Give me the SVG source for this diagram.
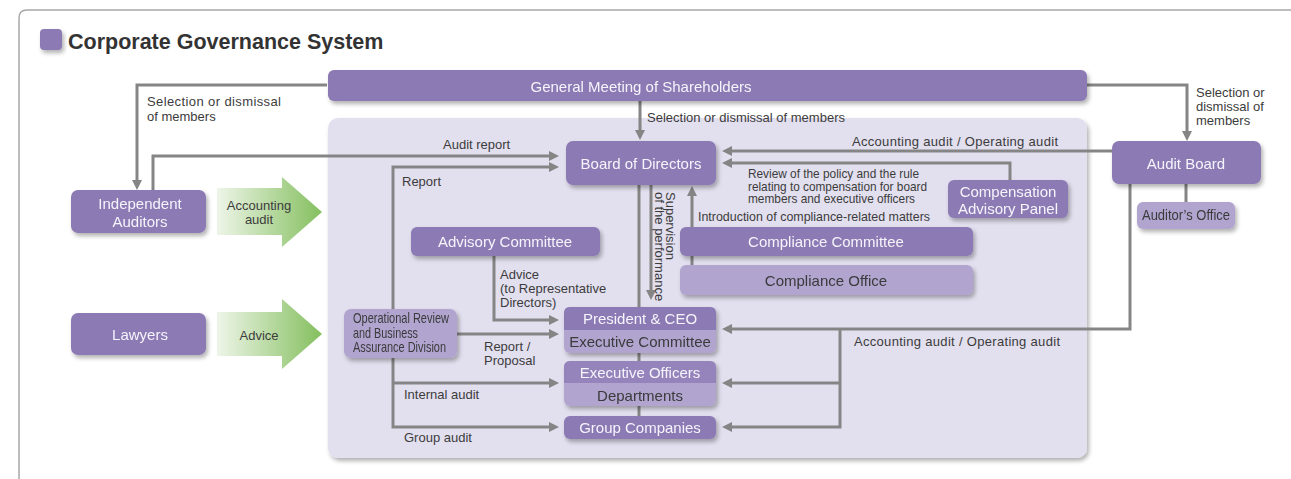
<svg xmlns="http://www.w3.org/2000/svg" width="1291" height="479" viewBox="0 0 1291 479">
<defs>
<style>
.t{font-family:"Liberation Sans",Arial,sans-serif;}
.nw{fill:#f6f4fb;font-size:15px;text-anchor:middle;}
.nd{fill:#3a3a3a;font-size:15px;text-anchor:middle;}
.st{text-anchor:start;}
.lb{fill:#3c3c3c;font-size:13px;}
.dk{fill:#8c7ab4;}
.lt{fill:#b1a5d0;}
.cn{fill:none;stroke:#858585;stroke-width:3;}
.ar{marker-end:url(#ah);}
</style>
<marker id="ah" viewBox="0 0 10 10" refX="2" refY="5" markerWidth="10" markerHeight="10" markerUnits="userSpaceOnUse" orient="auto"><path d="M0,0 L10,5 L0,10 z" fill="#858585"/></marker>
<filter id="sh" x="-10%" y="-20%" width="130%" height="160%"><feDropShadow dx="2" dy="3" stdDeviation="2" flood-color="#000" flood-opacity="0.3"/></filter>
<linearGradient id="gg" x1="0" y1="0" x2="1" y2="0"><stop offset="0" stop-color="#eef5e8"/><stop offset="1" stop-color="#84bf5e"/></linearGradient>
</defs>
<rect width="1291" height="479" fill="#ffffff"/>
<path d="M19,479 V18 Q19,10 27,10 H1291" fill="none" stroke="#a8a8a8" stroke-width="1.5"/>
<g id="title">
<rect x="40" y="29" width="22" height="21" rx="4" class="dk" filter="url(#sh)"/>
<text x="68" y="49" class="t" font-size="21.5" font-weight="bold" fill="#333">Corporate Governance System</text>
</g>
<rect id="panel" x="328" y="118" width="759" height="340" rx="10" fill="#e2dfee" filter="url(#sh)"/>
<g id="arrows-green">
<polygon points="217,188 282,188 282,177 322,212 282,247 282,235 217,235" fill="url(#gg)"/>
<text x="259" y="210" class="t lb" font-size="13.5" text-anchor="middle">Accounting</text>
<text x="259" y="224" class="t lb" font-size="13.5" text-anchor="middle">audit</text>
<polygon points="217,312 282,312 282,299 322,334 282,369 282,356 217,356" fill="url(#gg)"/>
<text x="259" y="340" class="t lb" font-size="13.5" text-anchor="middle">Advice</text>
</g>
<g id="connectors">
<path class="cn ar" d="M327,85 H137 V182"/>
<path class="cn ar" d="M153,190 V156 H551"/>
<path class="cn ar" d="M393,309 V167 H551"/>
<path class="cn ar" d="M640,101 V132"/>
<path class="cn ar" d="M1087,85 H1187 V133"/>
<path class="cn ar" d="M1112,151 H730"/>
<path class="cn ar" d="M1010,180 V163 H730"/>
<path class="cn ar" d="M692,265 V194"/>
<path class="cn" d="M639,185 V307" stroke-width="3.5"/>
<path class="cn ar" d="M651,185 V292"/>
<path class="cn ar" d="M494,256 V320 H551"/>
<path class="cn ar" d="M457,334 H551"/>
<path class="cn ar" d="M393,358 V427 H551"/>
<path class="cn ar" d="M393,383 H551"/>
<path class="cn ar" d="M1130,184 V329 H730"/>
<path class="cn ar" d="M840,329 V427 H730"/>
<path class="cn ar" d="M840,383 H730"/>
<path class="cn" d="M639,353 V361 M639,406 V416 M1186,184 V202" stroke-width="4"/>
</g>
<g id="labels" class="t">
<text x="147" y="106" class="lb" textLength="134">Selection or dismissal</text>
<text x="147" y="121" class="lb">of members</text>
<text x="647" y="122" class="lb">Selection or dismissal of members</text>
<text x="443" y="149" class="lb">Audit report</text>
<text x="402" y="186" class="lb">Report</text>
<text x="1196" y="97" class="lb">Selection or</text>
<text x="1196" y="111" class="lb">dismissal of</text>
<text x="1196" y="125" class="lb">members</text>
<text x="1058" y="146" class="lb" text-anchor="end" textLength="206">Accounting audit / Operating audit</text>
<text x="748" y="178" class="lb" font-size="10.2" textLength="171" lengthAdjust="spacingAndGlyphs">Review of the policy and the rule</text>
<text x="748" y="190.5" class="lb" font-size="10.2" textLength="179" lengthAdjust="spacingAndGlyphs">relating to compensation for board</text>
<text x="748" y="203" class="lb" font-size="10.2" textLength="167" lengthAdjust="spacingAndGlyphs">members and executive officers</text>
<text x="698" y="221" class="lb" font-size="12.5" textLength="232" lengthAdjust="spacingAndGlyphs">Introduction of compliance-related matters</text>
<text transform="translate(666,192) rotate(90)" class="lb" font-size="11">Supervision</text>
<text transform="translate(655,192) rotate(90)" class="lb" font-size="11">of the performance</text>
<text x="500" y="279" class="lb">Advice</text>
<text x="500" y="293" class="lb">(to Representative</text>
<text x="500" y="307" class="lb">Directors)</text>
<text x="484" y="351" class="lb">Report /</text>
<text x="484" y="365" class="lb">Proposal</text>
<text x="404" y="399" class="lb">Internal audit</text>
<text x="404" y="442" class="lb">Group audit</text>
<text x="854" y="346" class="lb" textLength="206">Accounting audit / Operating audit</text>
</g>
<g id="gm" filter="url(#sh)"><rect x="328" y="70" width="759" height="31" rx="6" class="dk"/><text x="641" y="92" class="t nw" font-size="18">General Meeting of Shareholders</text></g>
<g id="independent-auditors" filter="url(#sh)"><rect x="71" y="190" width="135" height="43" rx="7" class="dk"/><text x="140" y="209" class="t nw">Independent</text><text x="140" y="227" class="t nw">Auditors</text></g>
<g id="lawyers" filter="url(#sh)"><rect x="71" y="313" width="135" height="42" rx="7" class="dk"/><text x="140" y="340" class="t nw">Lawyers</text></g>
<g id="board" filter="url(#sh)"><rect x="566" y="141" width="150" height="44" rx="7" class="dk"/><text x="641" y="169" class="t nw">Board of Directors</text></g>
<g id="audit-board" filter="url(#sh)"><rect x="1112" y="141" width="149" height="43" rx="7" class="dk"/><text x="1186" y="169" class="t nw">Audit Board</text></g>
<g id="auditors-office" filter="url(#sh)"><rect x="1137" y="202" width="98" height="27" rx="6" class="lt"/><text x="1142" y="220" class="t nd st" font-size="13" textLength="88" lengthAdjust="spacingAndGlyphs">Auditor’s Office</text></g>
<g id="compensation" filter="url(#sh)"><rect x="948" y="180" width="120" height="38" rx="6" class="dk"/><text x="1008" y="197" class="t nw" font-size="14">Compensation</text><text x="1008" y="214" class="t nw" font-size="14">Advisory Panel</text></g>
<g id="advisory" filter="url(#sh)"><rect x="411" y="227" width="189" height="29" rx="6" class="dk"/><text x="505" y="247" class="t nw">Advisory Committee</text></g>
<g id="compliance-committee" filter="url(#sh)"><rect x="680" y="227" width="293" height="29" rx="6" class="dk"/><text x="826" y="247" class="t nw">Compliance Committee</text></g>
<g id="compliance-office" filter="url(#sh)"><rect x="680" y="265" width="293" height="30" rx="6" class="lt"/><text x="826" y="286" class="t nd">Compliance Office</text></g>
<g id="operational-review" filter="url(#sh)"><rect x="344" y="309" width="113" height="49" rx="7" class="lt"/>
<text x="353" y="323" class="t nd st" font-size="11.5" textLength="96" lengthAdjust="spacingAndGlyphs">Operational Review</text>
<text x="353" y="337.5" class="t nd st" font-size="11.5" textLength="65" lengthAdjust="spacingAndGlyphs">and Business</text>
<text x="353" y="352" class="t nd st" font-size="11.5" textLength="93" lengthAdjust="spacingAndGlyphs">Assurance Division</text></g>
<g id="president" filter="url(#sh)"><rect x="564" y="307" width="152" height="46" rx="6" class="lt"/><path d="M564,330 V313 Q564,307 570,307 H710 Q716,307 716,313 V330 Z" class="dk"/><text x="640" y="324" class="t nw">President &amp; CEO</text><text x="640" y="347" class="t nd" font-size="14.5">Executive Committee</text></g>
<g id="executive-officers" filter="url(#sh)"><rect x="564" y="361" width="152" height="45" rx="6" class="lt"/><path d="M564,383 V367 Q564,361 570,361 H710 Q716,361 716,367 V383 Z" class="dk" fill-opacity="0.75"/><text x="640" y="378" class="t nw">Executive Officers</text><text x="640" y="401" class="t nd">Departments</text></g>
<g id="group-companies" filter="url(#sh)"><rect x="564" y="416" width="152" height="23" rx="6" class="dk"/><text x="640" y="433" class="t nw">Group Companies</text></g>
</svg>
